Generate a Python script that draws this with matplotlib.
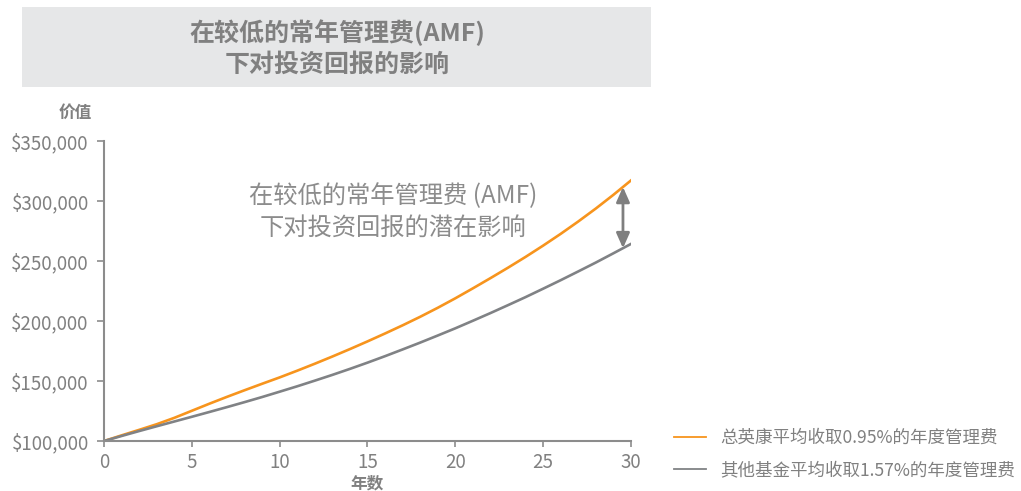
import matplotlib
matplotlib.use("Agg")
import matplotlib.pyplot as plt
from matplotlib.patches import Rectangle
from matplotlib.ticker import FuncFormatter
import numpy as np

plt.rcParams['font.family'] = ['Noto Sans CJK SC', 'DejaVu Sans']

# data
years = list(range(0, 31))
value_low_fee = [100000, 104700, 109300, 114000, 119300, 125200, 131100, 136800,
                 142300, 147700, 153000, 158600, 164400, 170400, 176600, 183000,
                 189600, 196400, 203500, 211000, 218900, 227200, 235700, 244400,
                 253400, 262800, 272600, 282900, 293700, 305100, 317100]
value_other = [100000, 104200, 108300, 112300, 116250, 120200, 124200, 128250,
               132400, 136650, 141100, 145600, 150300, 155100, 160100, 165300,
               170700, 176300, 182000, 187900, 193900, 200200, 206600, 213200,
               219900, 226900, 234000, 241300, 248700, 256400, 264200]
series_labels = ['总英康平均收取0.95%的年度管理费', '其他基金平均收取1.57%的年度管理费']
x_ticks = [0, 5, 10, 15, 20, 25, 30]
y_ticks = [100000, 150000, 200000, 250000, 300000, 350000]
title_text = '在较低的常年管理费(AMF)\n下对投资回报的影响'
note_text = '在较低的常年管理费 (AMF)\n下对投资回报的潜在影响'
arrow_year = 29.55

ORANGE = '#F7941D'
GREY = '#808285'
TEXT = '#808080'

fig = plt.figure(figsize=(10.21, 4.91), dpi=100)

# title banner
fig.patches.append(Rectangle((0.0215, 0.8228), 0.616, 0.163, transform=fig.transFigure,
                             facecolor='#E6E7E8', edgecolor='none', zorder=0))
fig.text(0.330, 0.902, title_text, ha='center', va='center', fontsize=18,
         fontweight='bold', color=TEXT, linespacing=1.38)

ax = fig.add_axes([0.1019, 0.1018, 0.516, 0.611])
ax.plot(years, value_low_fee, color=ORANGE, lw=1.9, label=series_labels[0])
ax.plot(years, value_other, color=GREY, lw=1.9, label=series_labels[1])

ax.set_xlim(0, 30)
ax.set_ylim(100000, 350000)
ax.set_xticks(x_ticks)
ax.set_yticks(y_ticks)
ax.yaxis.set_major_formatter(FuncFormatter(lambda v, p: '${:,.0f}'.format(v)))

for s in ['top', 'right']:
    ax.spines[s].set_visible(False)
for s in ['left', 'bottom']:
    ax.spines[s].set_color('#8C8C8C')
    ax.spines[s].set_linewidth(1.5)
ax.tick_params(axis='y', length=5, width=1.2, color='#8C8C8C', labelsize=13.5, labelcolor=TEXT, pad=6)
ax.tick_params(axis='x', length=4, width=1.2, color='#8C8C8C', labelsize=13.5, labelcolor=TEXT, pad=4)

fig.text(0.0735, 0.770, '价值', ha='center', va='center', fontsize=12,
         fontweight='bold', color=TEXT)
fig.text(0.3595, 0.016, '年数', ha='center', va='center', fontsize=12,
         fontweight='bold', color=TEXT)

# annotation text and double arrow
ax.text(16.45, 0.765, note_text, transform=ax.get_xaxis_transform(), ha='center', va='center',
        fontsize=17.5, color='#8C8C8C', linespacing=1.28)
y_top = np.interp(arrow_year, years, value_low_fee)
y_bot = np.interp(arrow_year, years, value_other)
ax.annotate('', xy=(arrow_year, y_top), xytext=(arrow_year, y_bot),
            arrowprops=dict(arrowstyle='<|-|>,head_length=0.9,head_width=0.4',
                            color='#7F7F7F', lw=2, shrinkA=0, shrinkB=0))

ax.legend(loc='upper left', bbox_to_anchor=(0.660, 0.127), bbox_transform=fig.transFigure,
          frameon=False, fontsize=12.6, labelcolor=TEXT, handlelength=1.85,
          handletextpad=0.8, labelspacing=0.85, borderaxespad=0, borderpad=0)
leg = ax.get_legend()
for h in leg.get_lines():
    h.set_linewidth(1.3)

fig.savefig('out.png', dpi=100)
